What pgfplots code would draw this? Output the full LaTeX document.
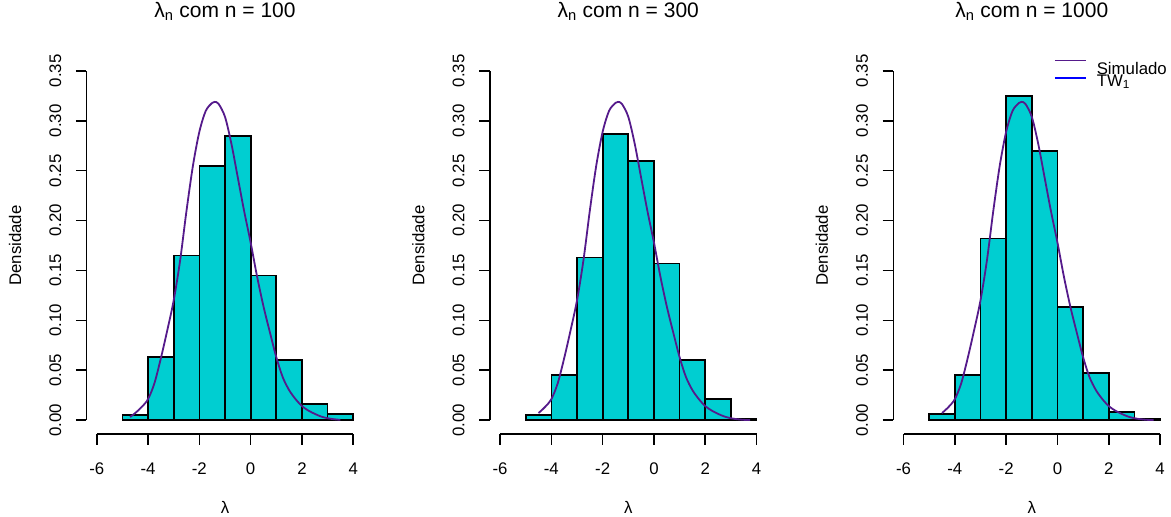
\documentclass[border=0pt]{standalone}
\usepackage{pgfplots}
\usepackage{pgfplotstable}
\pgfplotsset{compat=1.18}
\usepackage{fontspec}
\setmainfont{Liberation Sans}
\definecolor{barcol}{HTML}{00CED1}
\definecolor{curvecol}{HTML}{551A8B}

\pgfplotstableread{
x y
-4.70 0.003
-4.50 0.007
-4.25 0.013
-4.00 0.021
-3.75 0.037
-3.50 0.062
-3.25 0.090
-3.00 0.120
-2.75 0.160
-2.50 0.210
-2.25 0.255
-2.00 0.289
-1.75 0.310
-1.50 0.318
-1.40 0.319
-1.25 0.317
-1.00 0.304
-0.75 0.277
-0.50 0.243
-0.25 0.209
0.00 0.178
0.25 0.144
0.50 0.114
0.75 0.088
1.00 0.063
1.25 0.043
1.50 0.030
1.75 0.021
2.00 0.014
2.25 0.0095
2.50 0.0062
2.75 0.0035
3.00 0.0018
3.25 0.0008
3.50 0.0002
3.75 0.0000
}\twcurve

% bin centres (bins of width 1 from -5 to 4)
\pgfplotstableread{
x y
-4.5 0.005
-3.5 0.063
-2.5 0.165
-1.5 0.255
-0.5 0.285
0.5 0.145
1.5 0.060
2.5 0.016
3.5 0.006
}\histA

\pgfplotstableread{
x y
-4.5 0.005
-3.5 0.045
-2.5 0.163
-1.5 0.287
-0.5 0.260
0.5 0.157
1.5 0.060
2.5 0.021
3.5 0.0013
}\histB

\pgfplotstableread{
x y
-4.5 0.006
-3.5 0.045
-2.5 0.182
-1.5 0.325
-0.5 0.270
0.5 0.113
1.5 0.047
2.5 0.008
3.5 0.0015
}\histC

\pgfplotsset{
  rpanel/.style={
    scale only axis, width=277pt, height=377pt,
    anchor=south west,
    xmin=-6.4, xmax=4.4, ymin=-0.014, ymax=0.364,
    axis lines*=left, axis line style={draw=none},
    clip=false,
    xtick={-6,-4,-2,0,2,4},
    ytick={0,0.05,0.1,0.15,0.2,0.25,0.3,0.35},
    tick align=outside, major tick length=10.7pt,
    tick style={black, line width=1.6pt},
    /pgf/number format/assume math mode=true,
    ticklabel style={font=\fontsize{16.8}{18}\selectfont},
    yticklabel style={rotate=90, anchor=south,
      /pgf/number format/.cd, fixed, fixed zerofill, precision=2},
    xticklabel style={anchor=north},
    xticklabel shift=15pt, yticklabel shift=11pt,
    label style={font=\fontsize{16.8}{18}\selectfont},
    xlabel={λ}, ylabel={Densidade},
    xlabel style={at={(axis description cs:0.5,-0.194)}, anchor=center},
    ylabel style={at={(axis description cs:-0.258,0.5)}, anchor=center},
    title style={at={(axis description cs:0.5,1.106)}, anchor=center,
      font=\fontsize{21}{24}\selectfont},
  },
  histbar/.style={ybar, bar width=1, bar shift=0pt, fill=barcol, draw=black,
    line width=1.7pt, forget plot},
  twline/.style={color=curvecol, line width=1.8pt, smooth, forget plot},
}

\newcommand{\raxes}{%
  \draw[line width=1.6pt] (axis cs:-6,-0.014) -- (axis cs:4,-0.014);
  \draw[line width=1.6pt] (axis cs:-6.4,0) -- (axis cs:-6.4,0.35);
}

\begin{document}
\begin{tikzpicture}
\useasboundingbox (0,0) rectangle (1171pt,517pt);

\begin{axis}[rpanel, at={(86.5pt,83pt)}, title={λ\textsubscript{n} com n = 100}]
  \addplot[histbar] table[x=x,y=y] {\histA};
  \addplot[twline, restrict x to domain=-4.7:3.6] table[x=x,y=y] {\twcurve};
  \raxes
\end{axis}

\begin{axis}[rpanel, at={(489.8pt,83pt)}, title={λ\textsubscript{n} com n = 300}]
  \addplot[histbar] table[x=x,y=y] {\histB};
  \addplot[twline, restrict x to domain=-4.5:3.75] table[x=x,y=y] {\twcurve};
  \raxes
\end{axis}

\begin{axis}[rpanel, at={(893.3pt,83pt)}, title={λ\textsubscript{n} com n = 1000},
  legend style={draw=none, fill=none, at={(axis description cs:0.58,0.993)}, anchor=north west,
    font=\fontsize{16.8}{18}\selectfont, row sep=-2pt, inner sep=0pt,
    nodes={inner sep=0pt}, /tikz/every odd column/.append style={column sep=10pt}},
  legend cell align=left,
  legend image code/.code={\draw[#1] (0pt,9pt) -- (31pt,9pt);}]
  \addplot[histbar] table[x=x,y=y] {\histC};
  \addplot[twline, restrict x to domain=-4.6:3.75] table[x=x,y=y] {\twcurve};
  \raxes
  \addlegendimage{curvecol, line width=1.6pt}
  \addlegendentry{Simulado}
  \addlegendimage{blue, line width=1.6pt, yshift=-6pt}
  \addlegendentry{TW\textsubscript{1}}
\end{axis}
\end{tikzpicture}
\end{document}
